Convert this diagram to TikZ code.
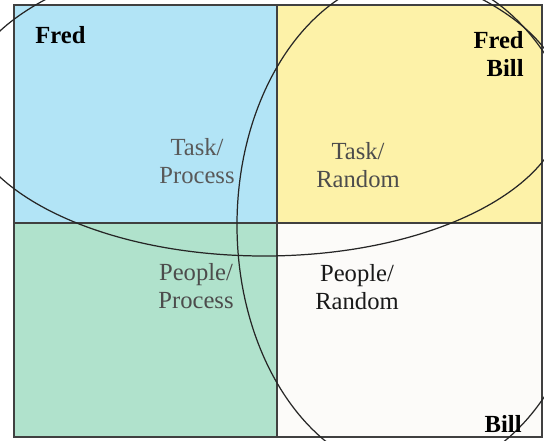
\documentclass[tikz,border=0pt]{standalone}
\usepackage{fontspec}
\setmainfont{Liberation Serif}
\definecolor{taskproc}{RGB}{178,228,246}
\definecolor{taskrand}{RGB}{253,242,168}
\definecolor{peopproc}{RGB}{176,226,204}
\definecolor{peoprand}{RGB}{252,251,249}
\begin{document}
\begin{tikzpicture}[scale=1]
\tikzstyle{quadlabel} = [align=center, font=\fontsize{14}{16}\selectfont, inner sep=0pt]
\tikzstyle{personlabel} = [align=right, font=\fontsize{14}{16}\selectfont\bfseries, inner sep=0pt]
\tikzstyle{gridline} = [line width=0.9pt, black!75]
\tikzstyle{ovalline} = [line width=0.7pt, black!85]

\useasboundingbox (0,0) rectangle (10.88,8.8);

% the four quadrants
\fill[taskproc] (0.28,4.34) rectangle (5.54,8.7);
\fill[taskrand] (5.54,4.34) rectangle (10.84,8.7);
\fill[peopproc] (0.28,0.06) rectangle (5.54,4.34);
\fill[peoprand] (5.54,0.06) rectangle (10.84,4.34);

\draw[gridline] (0.28,0.06) rectangle (10.84,8.7);
\draw[gridline] (5.54,0.06) -- (5.54,8.7);
\draw[gridline] (0.28,4.34) -- (10.84,4.34);

\begin{scope}
\clip (0,0) rectangle (10.88,8.8);
\draw[ovalline] (5.28,6.72) ellipse (6.02 and 3.04);
\draw[ovalline] (8.30,4.30) ellipse (3.56 and 5.0);
\end{scope}

\node[quadlabel, text=black!65] (tp) at (3.94,5.58) {Task/\\Process};
\node[quadlabel, text=black!70] (tr) at (7.16,5.50) {Task/\\Random};
\node[quadlabel, text=black!70] (pp) at (3.92,3.08) {People/\\Process};
\node[quadlabel, text=black!90] (pr) at (7.14,3.06) {People/\\Random};

\node[personlabel, anchor=west] (fred) at (0.70,8.10) {Fred};
\node[personlabel, anchor=east] (both) at (10.48,7.72) {Fred\\Bill};
\node[personlabel, anchor=east] (bill) at (10.44,0.32) {Bill};

\end{tikzpicture}
\end{document}
